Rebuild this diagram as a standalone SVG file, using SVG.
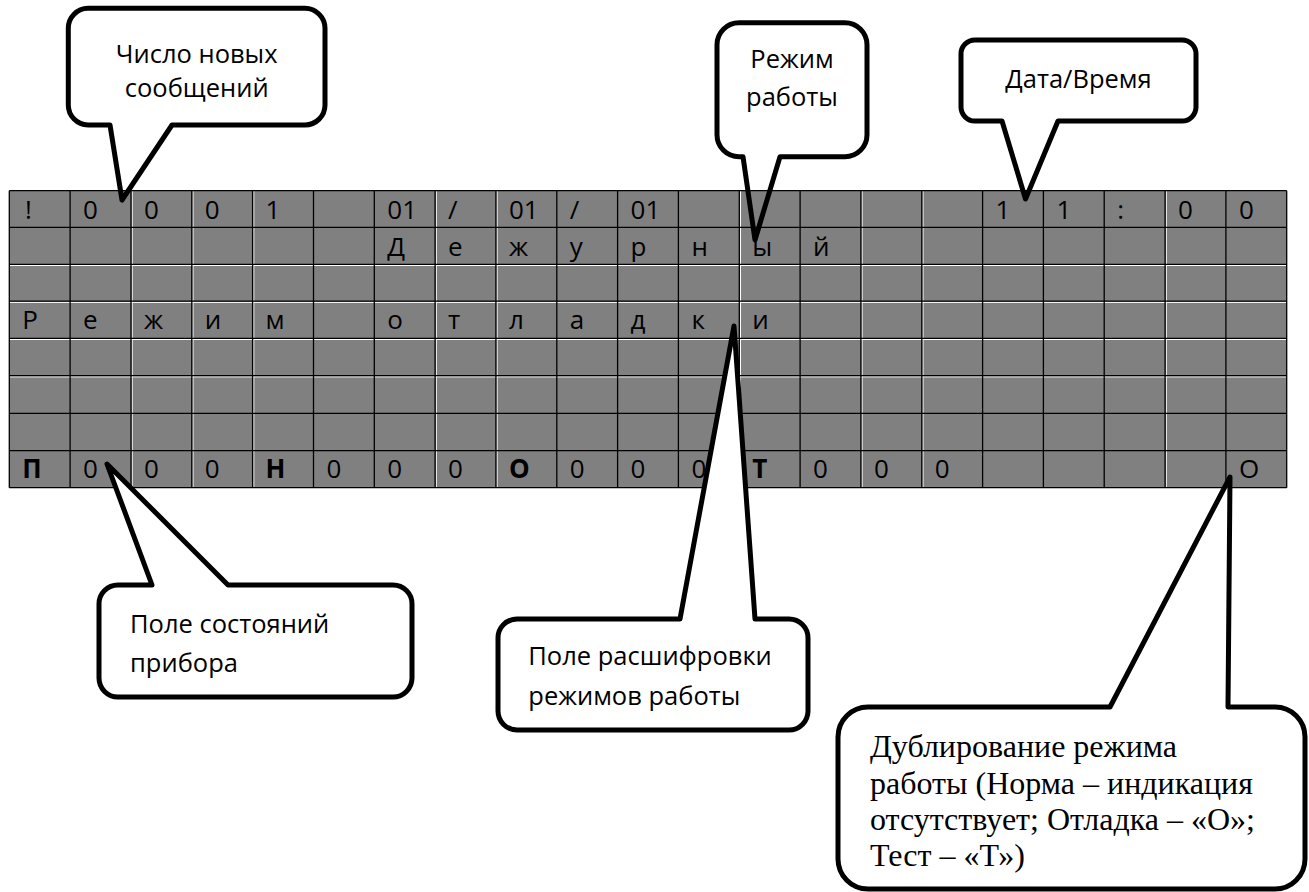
<svg xmlns="http://www.w3.org/2000/svg" width="1309" height="892" viewBox="0 0 1309 892">
<style>
.bg{fill:#ffffff}
.panel{fill:#808080}
.gl{stroke:#000;stroke-width:1.3;fill:none}
.wl{stroke:#ffffff;stroke-width:1;fill:none}
.c{font-family:"Open Sans","Noto Sans",sans-serif;font-size:26px;fill:#000}
.b{font-weight:bold}
.lbl{font-family:"Open Sans","Noto Sans",sans-serif;font-size:25.5px;fill:#000}
.mid{text-anchor:middle}
.serif{font-family:"Liberation Serif","Times New Roman",serif;font-size:32px;fill:#000}
.co{fill:#fff;stroke:#000;stroke-width:5;stroke-linejoin:round}
.co-open{fill:none;stroke:#000;stroke-width:5;stroke-linejoin:round}
</style>
<rect class="bg" x="0" y="0" width="1309" height="892"/>

<g id="display">
<rect class="panel" x="9.3" y="190.7" width="1277.4" height="297"/>
<path class="wl" d="M132.2 190.7V487.7M193 190.7V487.7M253.8 190.7V487.7M436.3 190.7V487.7M497.1 190.7V487.7M740.5 190.7V487.7M862.1 190.7V487.7M923 190.7V487.7M1166.3 190.7V487.7M9.3 265.5H1286.7M9.3 302.4H1286.7M9.3 339.5H1286.7M9.3 376.9H1286.7"/>
<path class="gl" d="M9.3 190.7H1286.7M9.3 227.3H1286.7M9.3 264.3H1286.7M9.3 301.2H1286.7M9.3 338.3H1286.7M9.3 375.7H1286.7M9.3 413.3H1286.7M9.3 450.7H1286.7M9.3 487.7H1286.7
M9.3 190.7V487.7M70.1 190.7V487.7M131 190.7V487.7M191.8 190.7V487.7M252.6 190.7V487.7M313.5 190.7V487.7M374.3 190.7V487.7M435.1 190.7V487.7M495.9 190.7V487.7M556.8 190.7V487.7M617.6 190.7V487.7M678.4 190.7V487.7M739.3 190.7V487.7M800.1 190.7V487.7M860.9 190.7V487.7M921.8 190.7V487.7M982.6 190.7V487.7M1043.4 190.7V487.7M1104.2 190.7V487.7M1165.1 190.7V487.7M1225.9 190.7V487.7M1286.7 190.7V487.7"/>
<g id="row1" class="c">
<text x="25" y="218.7">!</text>
<text x="83.1" y="218.7">0</text>
<text x="144" y="218.7">0</text>
<text x="204.8" y="218.7">0</text>
<text x="265.6" y="218.7">1</text>
<text x="387.3" y="218.7">01</text>
<text x="448.1" y="218.7">/</text>
<text x="508.9" y="218.7">01</text>
<text x="569.8" y="218.7">/</text>
<text x="630.6" y="218.7">01</text>
<text x="995.6" y="218.7">1</text>
<text x="1056.4" y="218.7">1</text>
<text x="1117.2" y="218.7">:</text>
<text x="1178.1" y="218.7">0</text>
<text x="1238.9" y="218.7">0</text>
</g>
<g id="row2" class="c">
<text x="387.3" y="256">Д</text>
<text x="448.1" y="256">е</text>
<text x="508.9" y="256">ж</text>
<text x="569.8" y="256">у</text>
<text x="630.6" y="256">р</text>
<text x="691.4" y="256">н</text>
<text x="752.3" y="256">ы</text>
<text x="813.1" y="256">й</text>
</g>
<g id="row4" class="c">
<text x="22.3" y="329">Р</text>
<text x="83.1" y="329">е</text>
<text x="144" y="329">ж</text>
<text x="204.8" y="329">и</text>
<text x="265.6" y="329">м</text>
<text x="387.3" y="329">о</text>
<text x="448.1" y="329">т</text>
<text x="508.9" y="329">л</text>
<text x="569.8" y="329">а</text>
<text x="630.6" y="329">д</text>
<text x="691.4" y="329">к</text>
<text x="752.3" y="329">и</text>
</g>
<g id="row8" class="c">
<text class="b" x="22.3" y="477.5">П</text>
<text x="83.1" y="477.5">0</text>
<text x="144" y="477.5">0</text>
<text x="204.8" y="477.5">0</text>
<text class="b" x="265.6" y="477.5">Н</text>
<text x="326.5" y="477.5">0</text>
<text x="387.3" y="477.5">0</text>
<text x="448.1" y="477.5">0</text>
<text class="b" x="508.9" y="477.5">О</text>
<text x="569.8" y="477.5">0</text>
<text x="630.6" y="477.5">0</text>
<text x="691.4" y="477.5">0</text>
<text class="b" x="752.3" y="477.5">Т</text>
<text x="813.1" y="477.5">0</text>
<text x="873.9" y="477.5">0</text>
<text x="934.8" y="477.5">0</text>
<text x="1238.9" y="477.5">О</text>
</g>
</g>

<g id="callout-new-messages">
<path class="co-open" d="M88 8.3H305A20 20 0 0 1 325 28.3V105A20 20 0 0 1 305 125H172L122 200L110 125H88A20 20 0 0 1 68.3 105V28.3A20 20 0 0 1 88 8.3Z"/>
<text class="lbl mid" x="196.7" y="63.3">Число новых</text>
<text class="lbl mid" x="196.7" y="97.3">сообщений</text>
</g>

<g id="callout-mode">
<path class="co-open" d="M739 22.7H845A22 22 0 0 1 867 44.7V134.7A22 22 0 0 1 845 156.7H780L755 240L743 156.7H739A22 22 0 0 1 717 134.7V44.7A22 22 0 0 1 739 22.7Z"/>
<text class="lbl mid" x="792" y="68.3">Режим</text>
<text class="lbl mid" x="792" y="105.5">работы</text>
</g>

<g id="callout-datetime">
<path class="co-open" d="M975 40H1182A14 14 0 0 1 1196 54V107A14 14 0 0 1 1182 121H1058L1025.5 199L1002 121H975A14 14 0 0 1 961 107V54A14 14 0 0 1 975 40Z"/>
<text class="lbl mid" x="1078.5" y="88">Дата/Время</text>
</g>

<g id="callout-device-state">
<path class="co" d="M118 585H152L107 464L228 585H393A19 19 0 0 1 412 604V678A19 19 0 0 1 393 697H118A19 19 0 0 1 99 678V604A19 19 0 0 1 118 585Z"/>
<text class="lbl" x="130" y="632.7">Поле состояний</text>
<text class="lbl" x="130" y="671.7">прибора</text>
</g>

<g id="callout-mode-decode">
<path class="co" d="M517 619H680L734 326L755 619H789A19 19 0 0 1 808 638V711A19 19 0 0 1 789 730H517A19 19 0 0 1 498 711V638A19 19 0 0 1 517 619Z"/>
<text class="lbl" x="528.3" y="665">Поле расшифровки</text>
<text class="lbl" x="528.3" y="705">режимов работы</text>
</g>

<g id="callout-duplicate">
<path class="co" d="M868 707H1110L1230 477L1228 707H1275A30 30 0 0 1 1305 737V859A30 30 0 0 1 1275 889H868A30 30 0 0 1 838 859V737A30 30 0 0 1 868 707Z"/>
<text class="serif" x="870" y="757">Дублирование режима</text>
<text class="serif" x="870" y="793.5">работы (Норма – индикация</text>
<text class="serif" x="870" y="829.5">отсутствует; Отладка – «О»;</text>
<text class="serif" x="870" y="865.5">Тест – «Т»)</text>
</g>

<g id="connectors"/>
</svg>
